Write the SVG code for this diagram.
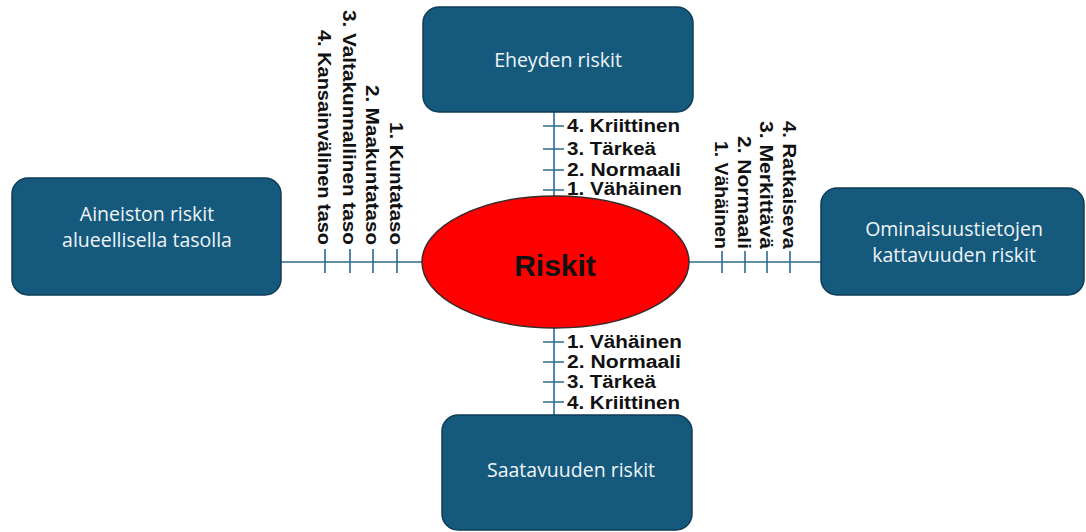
<svg xmlns="http://www.w3.org/2000/svg" width="1086" height="532" viewBox="0 0 1086 532">
<style>
.box{fill:#155a7d;stroke:#0e3c57;stroke-width:1.5}
.bt{font-family:"Open Sans","Liberation Sans",sans-serif;font-size:19.5px;fill:#f0f4f8;text-anchor:middle}
.lbl{font-family:"Liberation Sans",Arial,sans-serif;font-size:18px;font-weight:bold;fill:#111}
.ln{stroke:#2c6b8f;stroke-width:1.6;fill:none}
</style>
<rect width="1086" height="532" fill="#ffffff"/>
<g id="connectors">
<path class="ln" d="M554 112V197M554 328V415M281 262H422M689 262H821"/>
<path class="ln" d="M543 126H564M543 149H564M543 170H564M543 190H564"/>
<path class="ln" d="M543 342H564M543 362H564M543 382H564M543 402H564"/>
<path class="ln" d="M325 249V273M350 249V273M373 249V273M397 249V273"/>
<path class="ln" d="M722 251V273M745 251V273M767 251V273M790 251V273"/>
</g>
<g id="labels-top">
<text class="lbl" x="567" y="132" textLength="113" lengthAdjust="spacingAndGlyphs">4. Kriittinen</text>
<text class="lbl" x="567" y="155" textLength="89" lengthAdjust="spacingAndGlyphs">3. Tärkeä</text>
<text class="lbl" x="567" y="176" textLength="114" lengthAdjust="spacingAndGlyphs">2. Normaali</text>
<text class="lbl" x="567" y="195" textLength="115" lengthAdjust="spacingAndGlyphs">1. Vähäinen</text>
</g>
<g id="labels-bottom">
<text class="lbl" x="567" y="348" textLength="115" lengthAdjust="spacingAndGlyphs">1. Vähäinen</text>
<text class="lbl" x="567" y="368" textLength="114" lengthAdjust="spacingAndGlyphs">2. Normaali</text>
<text class="lbl" x="567" y="388" textLength="89" lengthAdjust="spacingAndGlyphs">3. Tärkeä</text>
<text class="lbl" x="567" y="409" textLength="113" lengthAdjust="spacingAndGlyphs">4. Kriittinen</text>
</g>
<g id="labels-left" text-anchor="end">
<text class="lbl" transform="translate(390,245) rotate(90)" textLength="123" lengthAdjust="spacingAndGlyphs">1. Kuntataso</text>
<text class="lbl" transform="translate(366,245) rotate(90)" textLength="160" lengthAdjust="spacingAndGlyphs">2. Maakuntataso</text>
<text class="lbl" transform="translate(343,245) rotate(90)" textLength="235" lengthAdjust="spacingAndGlyphs">3. Valtakunnallinen taso</text>
<text class="lbl" transform="translate(318,245) rotate(90)" textLength="215" lengthAdjust="spacingAndGlyphs">4. Kansainvälinen taso</text>
</g>
<g id="labels-right" text-anchor="end">
<text class="lbl" transform="translate(715,249) rotate(90)" textLength="108" lengthAdjust="spacingAndGlyphs">1. Vähäinen</text>
<text class="lbl" transform="translate(738,249) rotate(90)" textLength="113" lengthAdjust="spacingAndGlyphs">2. Normaali</text>
<text class="lbl" transform="translate(760,249) rotate(90)" textLength="128" lengthAdjust="spacingAndGlyphs">3. Merkittävä</text>
<text class="lbl" transform="translate(783,249) rotate(90)" textLength="128" lengthAdjust="spacingAndGlyphs">4. Ratkaiseva</text>
</g>
<g id="node-eheyden">
<rect class="box" x="423" y="7" width="270" height="105" rx="16"/>
<text class="bt" x="558" y="67">Eheyden riskit</text>
</g>
<g id="node-aineiston">
<rect class="box" x="12" y="178" width="269" height="117" rx="16"/>
<text class="bt" x="147" y="221">Aineiston riskit</text>
<text class="bt" x="147" y="247">alueellisella tasolla</text>
</g>
<g id="node-ominaisuus">
<rect class="box" x="821" y="188" width="263" height="107" rx="16"/>
<text class="bt" x="954" y="236">Ominaisuustietojen</text>
<text class="bt" x="954" y="262">kattavuuden riskit</text>
</g>
<g id="node-saatavuuden">
<rect class="box" x="442" y="415" width="250" height="115" rx="16"/>
<text class="bt" x="571" y="477">Saatavuuden riskit</text>
</g>
<g id="node-riskit">
<ellipse cx="555.5" cy="262" rx="133.5" ry="66" fill="#ff0000" stroke="#3a2a2a" stroke-width="1.5"/>
<text x="555" y="276" text-anchor="middle" font-family="Liberation Sans, Arial, sans-serif" font-size="30" font-weight="bold" fill="#111">Riskit</text>
</g>
</svg>
